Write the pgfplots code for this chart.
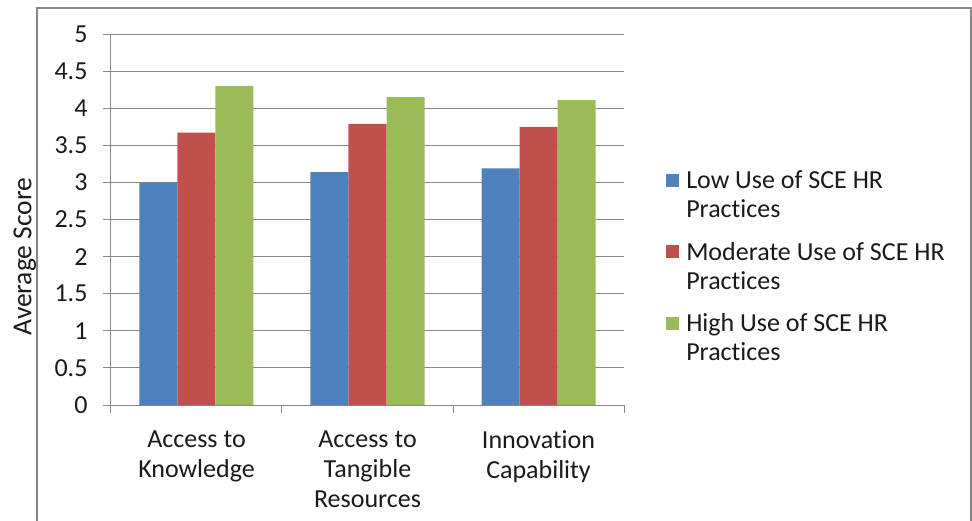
\documentclass[border=0pt]{standalone}
\usepackage{fontspec}
\setmainfont[Ligatures=NoCommon]{Carlito}
\usepackage{pgfplots}
\pgfplotsset{compat=1.18}
\definecolor{xlblue}{HTML}{4F81BD}
\definecolor{xlred}{HTML}{C0504D}
\definecolor{xlgreen}{HTML}{9BBB59}
\definecolor{xlgray}{HTML}{868686}
\definecolor{txt}{HTML}{1A1A1A}

\pgfplotstableread{
cat low mod high
0 3.00 3.67 4.30
1 3.14 3.79 4.15
2 3.19 3.75 4.11
}\scores

\begin{document}
\begin{tikzpicture}[x=1pt,y=1pt,font=\fontsize{26}{30}\selectfont,text=txt]
\begin{axis}[
  at={(0,0)}, anchor=south west,
  scale only axis, width=513pt, height=371pt,
  ybar=0pt, bar width=38pt,
  xmin=-0.5, xmax=2.5, ymin=0, ymax=5,
  axis x line*=bottom, axis y line*=left,
  axis line style={xlgray, line width=1pt, -},
  xtick={0,1,2},
  xticklabels={{Access to\\Knowledge},{Access to\\Tangible\\Resources},{Innovation\\Capability}},
  xticklabel style={align=center, anchor=north, yshift=-14pt},
  major x tick style={draw=none},
  minor xtick={-0.5,0.5,1.5,2.5},
  minor tick length=8pt,
  major tick length=8pt,
  tick align=outside,
  tick style={xlgray, line width=1pt},
  ytick={0,0.5,1,1.5,2,2.5,3,3.5,4,4.5,5},
  yticklabel style={anchor=east, xshift=-12pt},
  /pgf/number format/assume math mode=true,
  ymajorgrids,
  major grid style={xlgray, line width=1pt},
  ylabel={Average Score},
  ylabel style={at={(axis description cs:-0.168,0.40)}, anchor=center,
    font=\fontsize{27.5}{30}\selectfont},
  legend style={at={(1.082,0.632)}, anchor=north west, draw=none, fill=none,
    inner sep=0pt, row sep=52pt, column sep=7pt,
    nodes={inner sep=0pt, anchor=base}},
  legend cell align=left,
  legend image code/.code={\fill[#1] (0pt,2pt) rectangle (13pt,15pt);},
]
\addplot[fill=xlblue, draw=none] table[x=cat, y=low] {\scores};
\addplot[fill=xlred, draw=none] table[x=cat, y=mod] {\scores};
\addplot[fill=xlgreen, draw=none] table[x=cat, y=high] {\scores};
\legend{\parbox[t]{280pt}{\baselineskip=29pt Low Use of SCE HR\\Practices},
        \parbox[t]{280pt}{\baselineskip=29pt Moderate Use of SCE HR\\Practices},
        \parbox[t]{280pt}{\baselineskip=29pt High Use of SCE HR\\Practices}}
\end{axis}
\draw[xlgray, line width=1.5pt] (-74,397) rectangle (860,-140);
\pgfresetboundingbox
\useasboundingbox (-111,-115) rectangle (861,405);
\end{tikzpicture}
\end{document}
